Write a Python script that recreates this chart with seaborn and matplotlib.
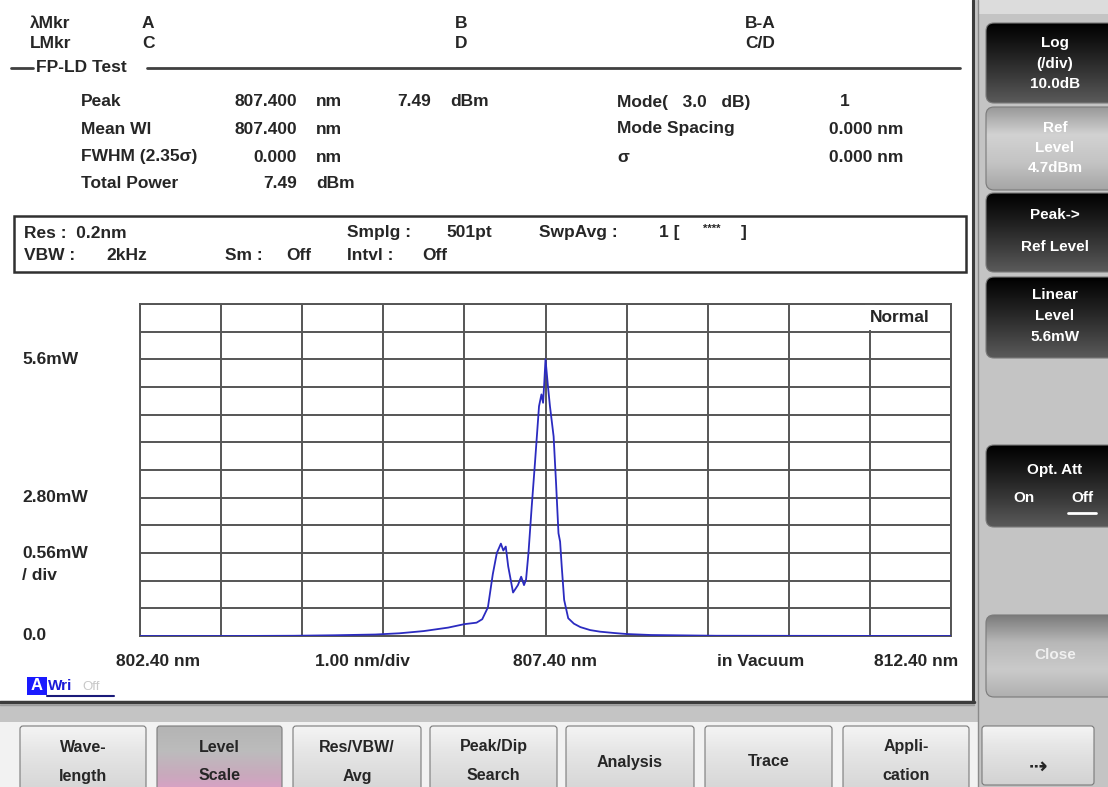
import numpy as np
import matplotlib
matplotlib.use("Agg")
import matplotlib.pyplot as plt
from matplotlib.patches import Rectangle, FancyBboxPatch
from matplotlib.colors import LinearSegmentedColormap
import seaborn as sns

# spectrum (nm, mW)
wavelength = [802.40, 803.50, 804.30, 804.80, 805.30, 805.60, 805.90, 806.20, 806.40, 806.55,
              806.62, 806.69, 806.75, 806.80, 806.85, 806.88, 806.91, 806.94, 807.00, 807.06,
              807.10, 807.135, 807.16, 807.19, 807.23, 807.27, 807.32, 807.35, 807.37, 807.385,
              807.40, 807.415, 807.43, 807.455, 807.50, 807.53, 807.56, 807.58, 807.60, 807.63,
              807.68, 807.75, 807.83, 807.95, 808.07, 808.25, 808.40, 808.70, 809.50, 812.40]
power_mw = [0.0, 0.0, 0.005, 0.015, 0.03, 0.055, 0.10, 0.17, 0.24, 0.27,
            0.34, 0.58, 1.25, 1.68, 1.87, 1.73, 1.81, 1.41, 0.88, 1.03,
            1.20, 1.03, 1.14, 1.68, 2.62, 3.50, 4.65, 4.89, 4.72, 5.13,
            5.60, 5.33, 5.06, 4.65, 4.04, 3.10, 2.08, 1.91, 1.41, 0.73,
            0.36, 0.25, 0.18, 0.12, 0.088, 0.06, 0.04, 0.02, 0.005, 0.0]

x_start, x_stop, x_div = 802.40, 812.40, 1.00
y_div, y_ndiv = 0.56, 12

sns.set_style("white")
plt.rcParams['font.family'] = ['Liberation Sans', 'DejaVu Sans']
plt.rcParams['font.weight'] = 'bold'

fig = plt.figure(figsize=(11.08, 7.87), dpi=100)
fig.patch.set_facecolor('#c4c4c4')

# whole screen in pixel coords
bg = fig.add_axes([0, 0, 1, 1])
bg.set_xlim(0, 1108)
bg.set_ylim(787, 0)
bg.axis('off')

bg.add_patch(Rectangle((0, 0), 975, 702, facecolor='white', edgecolor='none', zorder=0))
bg.plot([973, 973], [0, 702], color='#3c3c3c', lw=2.2, zorder=1)
bg.plot([978, 978], [0, 787], color='#8a8a8a', lw=1.0, zorder=1)
bg.plot([0, 974], [702, 702], color='#3c3c3c', lw=2.5, zorder=1)
bg.plot([0, 974], [705, 705], color='#9a9a9a', lw=1.0, zorder=1)
bg.add_patch(Rectangle((979, 0), 129, 14, facecolor='#dcdcdc', edgecolor='none', zorder=0.5))


def button(x0, y0, x1, y1, colors, r=8):
    shape = FancyBboxPatch((x0, y0), x1 - x0, y1 - y0, boxstyle='round,pad=0,rounding_size=%d' % r,
                           facecolor='none', edgecolor='#7a7a7a', lw=0.8, zorder=3)
    bg.add_patch(shape)
    cmap = LinearSegmentedColormap.from_list('b', colors)
    im = bg.imshow(np.linspace(0, 1, 64)[:, None], extent=[x0, x1, y1, y0], cmap=cmap,
                   aspect='auto', zorder=2, interpolation='bilinear')
    im.set_clip_path(shape)


black = ['#000000', '#1c1c1c', '#3a3a3a', '#5a5a5a']
grey = ['#9a9a9a', '#d2d2d2', '#c4c4c4', '#a6a6a6']
side_font = dict(color='white', fontsize=11, ha='center', va='center', zorder=4)

# side soft keys
button(986, 23, 1120, 103, black)
bg.text(1055, 43, 'Log', **side_font)
bg.text(1055, 64, '(/div)', **side_font)
bg.text(1055, 84, '10.0dB', **side_font)
button(986, 107, 1120, 190, grey)
bg.text(1055, 128, 'Ref', **side_font)
bg.text(1055, 148, 'Level', **side_font)
bg.text(1055, 168, '4.7dBm', **side_font)
button(986, 193, 1120, 272, black)
bg.text(1055, 215, 'Peak->', **side_font)
bg.text(1055, 247, 'Ref Level', **side_font)
button(986, 277, 1120, 358, black)
bg.text(1055, 295, 'Linear', **side_font)
bg.text(1055, 316, 'Level', **side_font)
bg.text(1055, 337, '5.6mW', **side_font)
button(986, 445, 1120, 527, black)
bg.text(1055, 470, 'Opt. Att', **side_font)
bg.text(1024, 498, 'On', **side_font)
bg.text(1082, 498, 'Off', **side_font)
bg.plot([1068, 1096], [513, 513], color='white', lw=2, zorder=4)
button(986, 615, 1120, 697, ['#7c7c7c', '#b8b8b8', '#cacaca', '#b0b0b0'])
bg.text(1055, 655, 'Close', color='#f0f0f0', fontsize=11, ha='center', va='center', zorder=4)

# bottom soft keys
bg.add_patch(Rectangle((0, 722), 978, 65, facecolor='#f2f2f2', edgecolor='none', zorder=0.5))
keys = [(20, 146, 'Wave-', 'length'), (157, 282, 'Level', 'Scale'), (293, 421, 'Res/VBW/', 'Avg'),
        (430, 557, 'Peak/Dip', 'Search'), (566, 694, 'Analysis', None), (705, 832, 'Trace', None),
        (843, 969, 'Appli-', 'cation'), (982, 1094, '⇢', None)]
for x0, x1, top, bottom in keys:
    if top == 'Level':
        cols = ['#b4b4b4', '#bcbcbc', '#c9a9bd', '#e39ccb']
    else:
        cols = ['#f4f4f4', '#e6e6e6', '#dcdcdc', '#d2d2d2']
    button(x0, 726, x1, 800 if top != '⇢' else 785, cols, r=3)
    xc = (x0 + x1) / 2
    if top == '⇢':
        bg.text(xc, 767, top, fontsize=16, family='DejaVu Sans', ha='center', va='center', zorder=4)
    elif bottom is None:
        bg.text(xc, 762, top, fontsize=11.5, ha='center', va='center', zorder=4)
    else:
        bg.text(xc, 747, top, fontsize=11.5, ha='center', va='center', zorder=4)
        bg.text(xc, 776, bottom, fontsize=11.5, ha='center', va='center', zorder=4)

# marker / result table
tf = dict(fontsize=12.5, va='center', zorder=4)
bg.text(30, 23, 'λMkr', **tf)
bg.text(142, 23, 'A', **tf)
bg.text(455, 23, 'B', **tf)
bg.text(745, 23, 'B-A', **tf)
bg.text(30, 44, 'LMkr', **tf)
bg.text(142, 44, 'C', **tf)
bg.text(455, 44, 'D', **tf)
bg.text(745, 44, 'C/D', **tf)
bg.plot([11, 33], [68, 68], color='#404040', lw=2)
bg.text(36, 68, 'FP-LD Test', **tf)
bg.plot([147, 960], [68, 68], color='#404040', lw=2)

bg.text(81, 102, 'Peak', **tf)
bg.text(297, 102, '807.400', ha='right', **tf)
bg.text(316, 102, 'nm', **tf)
bg.text(431, 102, '7.49', ha='right', **tf)
bg.text(450, 102, 'dBm', **tf)
bg.text(617, 102, 'Mode(   3.0   dB)', **tf)
bg.text(840, 102, '1', **tf)
bg.text(81, 129, 'Mean Wl', **tf)
bg.text(297, 129, '807.400', ha='right', **tf)
bg.text(316, 129, 'nm', **tf)
bg.text(617, 129, 'Mode Spacing', **tf)
bg.text(903, 129, '0.000 nm', ha='right', **tf)
bg.text(81, 157, 'FWHM (2.35σ)', **tf)
bg.text(297, 157, '0.000', ha='right', **tf)
bg.text(316, 157, 'nm', **tf)
bg.text(617, 157, 'σ', **tf)
bg.text(903, 157, '0.000 nm', ha='right', **tf)
bg.text(81, 184, 'Total Power', **tf)
bg.text(297, 184, '7.49', ha='right', **tf)
bg.text(316, 184, 'dBm', **tf)

# settings box
bg.add_patch(Rectangle((14, 216), 952, 56, facecolor='none', edgecolor='#303030', lw=1.8, zorder=3))
bg.text(24, 233, 'Res :  0.2nm', **tf)
bg.text(24, 255, 'VBW :', **tf)
bg.text(106, 255, '2kHz', **tf)
bg.text(225, 255, 'Sm :', **tf)
bg.text(286, 255, 'Off', **tf)
bg.text(347, 233, 'Smplg :', **tf)
bg.text(446, 233, '501pt', **tf)
bg.text(347, 255, 'Intvl :', **tf)
bg.text(422, 255, 'Off', **tf)
bg.text(539, 233, 'SwpAvg :', **tf)
bg.text(659, 233, '1 [', **tf)
bg.text(703, 229, '****', fontsize=8, va='center', zorder=4)
bg.text(741, 233, ']', **tf)

# axis texts around the trace area
lf = dict(fontsize=12.5, va='center', zorder=4)
bg.text(22, 360, '5.6mW', **lf)
bg.text(22, 497, '2.80mW', **lf)
bg.text(22, 553, '0.56mW', **lf)
bg.text(22, 575, '/ div', **lf)
bg.text(22, 636, '0.0', **lf)
bg.text(158, 661, '%.2f nm' % x_start, ha='center', **lf)
bg.text(362, 661, '%.2f nm/div' % x_div, ha='center', **lf)
bg.text(555, 661, '%.2f nm' % ((x_start + x_stop) / 2), ha='center', **lf)
bg.text(761, 661, 'in Vacuum', ha='center', **lf)
bg.text(916, 661, '%.2f nm' % x_stop, ha='center', **lf)
bg.add_patch(Rectangle((27, 677), 20, 18, facecolor='#1a1aff', edgecolor='none', zorder=3))
bg.text(37, 686, 'A', color='white', fontsize=12, ha='center', va='center', zorder=4)
bg.text(48, 686, 'Wri', color='#1a1ad8', fontsize=11, va='center', zorder=4)
bg.text(82, 687, 'Off', color='#c8c8c8', fontsize=9.5, fontweight='normal', va='center', zorder=4)
bg.plot([47, 114], [696, 696], color='#1a1a7a', lw=1.5, zorder=4)

# trace area
ax = fig.add_axes([140 / 1108, (787 - 636) / 787, 811 / 1108, 332 / 787])
ax.set_facecolor('white')
sns.lineplot(x=wavelength, y=power_mw, ax=ax, color='#2b2bc0', lw=1.3, zorder=3)
ax.set_xlim(x_start, x_stop)
ax.set_ylim(0, y_div * y_ndiv)
ax.set_xticks(np.arange(x_start, x_stop + 0.01, x_div))
ax.set_yticks(np.arange(0, y_ndiv + 1) * y_div)
ax.tick_params(length=0, labelbottom=False, labelleft=False)
ax.set_axisbelow(True)
ax.grid(True, color='#555555', lw=1.4)
for s in ax.spines.values():
    s.set_color('#555555')
    s.set_linewidth(1.4)
ax.set_xlabel('')
ax.set_ylabel('')
# "Normal" cell hides one grid line
ax.add_patch(Rectangle((x_stop - x_div - 0.06, y_div * (y_ndiv - 1) + 0.04), 0.12, y_div,
                       facecolor='white', edgecolor='none', zorder=1))
ax.text(x_stop - x_div + 0.37, y_div * (y_ndiv - 0.5), 'Normal', fontsize=12.5,
        ha='center', va='center', zorder=4)

fig.savefig('out.png', dpi=100, facecolor=fig.get_facecolor())
